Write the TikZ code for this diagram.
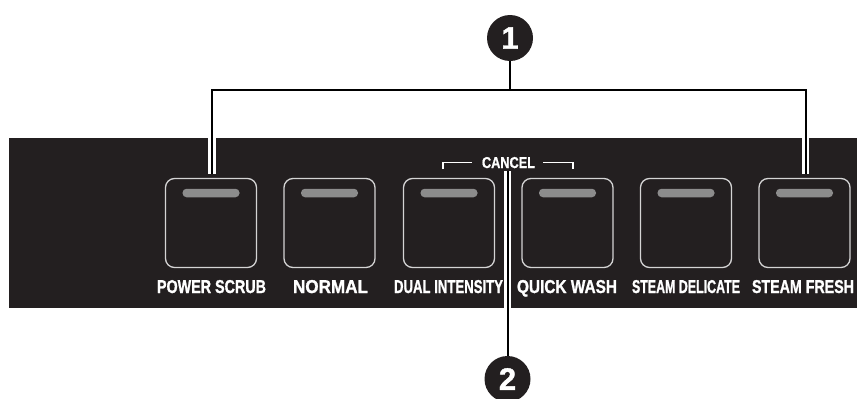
\documentclass[tikz,border=0pt]{standalone}
\usepackage{fontspec}
\setmainfont{Liberation Sans}
\newfontfamily\labfont[BoldFeatures={FakeBold=1.3}]{Liberation Sans}
\usepackage{graphicx}
\definecolor{panelc}{HTML}{231F20}
\definecolor{rimc}{HTML}{D4D4D4}
\definecolor{ledc}{HTML}{8C8C8C}
\newcommand\lbl[3][13]{\resizebox{#2pt}{#1pt}{\labfont\bfseries #3}}
\tikzset{
  panel/.style={fill=panelc, draw=none, minimum width=870pt, minimum height=170pt, inner sep=0pt, anchor=north west},
  btn/.style={draw=rimc, line width=1.3pt, fill=panelc, rounded corners=9pt, minimum width=91pt, minimum height=89pt, inner sep=0pt},
  led/.style={fill=ledc, draw=none, rounded corners=4pt, minimum width=57pt, minimum height=8.5pt, inner sep=0pt},
  lab/.style={text=white, anchor=base, inner sep=0pt},
  callout/.style={circle, fill=panelc, text=white, minimum size=46pt, inner sep=0pt, font=\labfont\fontsize{31}{31}\selectfont\bfseries},
  halo/.style={draw=white, line width=7.5pt},
  leader/.style={draw=black, line width=2pt},
  brk/.style={draw=white, line width=1.2pt},
}
\begin{document}
\begin{tikzpicture}[x=1pt,y=-1pt]
\useasboundingbox (0,0) rectangle (857,399);
\clip (0,0) rectangle (857,399);
\node[panel] (pn) at (9,138) {};
% buttons
\foreach \n/\x in {1/211, 2/329.5, 3/449, 4/567.5, 5/686, 6/804.5}{
  \node[btn] (b\n) at (\x,223) {};
  \node[led] (l\n) at (\x,193) {};
}
% labels
\node[lab] (t1) at (211.5,293) {\lbl{109}{POWER SCRUB}};
\node[lab] (t2) at (330.5,293) {\lbl{75}{NORMAL}};
\node[lab] (t3) at (448.5,293) {\lbl{109}{DUAL INTENSITY}};
\node[lab] (t4) at (567,293) {\lbl{100}{QUICK WASH}};
\node[lab] (t5) at (686,293) {\lbl{108}{STEAM DELICATE}};
\node[lab] (t6) at (803,293) {\lbl{102}{STEAM FRESH}};
% cancel
\node[lab] (cn) at (508.5,168) {\lbl[11]{53}{CANCEL}};
\coordinate (bl) at (443,169);
\coordinate (br) at (573,169);
\draw[brk] (bl) |- ([xshift=-10pt]cn.west);
\draw[brk] ([xshift=8pt]cn.east) -| (br);
% callouts
\node[callout] (c1) at (510,38) {1};
\node[callout] (c2) at (507.5,379) {2};
\coordinate (L) at (212,174);
\coordinate (R) at (805.5,174);
\coordinate (bar) at (510,90);
\coordinate (t2top) at (507.5,171);
% white halos inside the panel
\draw[halo] (L |- pn.north) -- (L);
\draw[halo] (R |- pn.north) -- (R);
\draw[halo] (t2top) -- (t2top |- pn.south);
% leader lines
\draw[leader] (L) |- (bar) -| (R);
\draw[leader] (c1.south) -- (bar);
\draw[leader] (t2top) -- (c2.north);
\end{tikzpicture}
\end{document}
